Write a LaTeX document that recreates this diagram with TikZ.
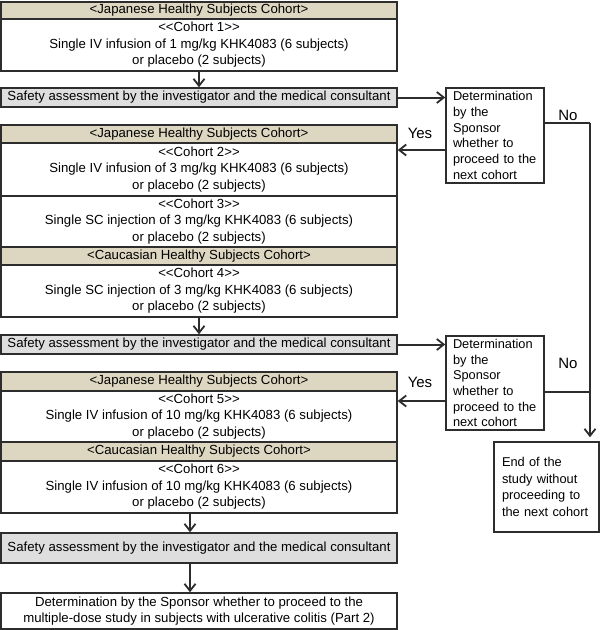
\documentclass[tikz,border=0pt]{standalone}
\usepackage{fontspec}
\setmainfont{Liberation Sans}
\usetikzlibrary{arrows.meta}
\definecolor{hdr}{RGB}{221,215,193}
\definecolor{saf}{RGB}{222,222,222}
\definecolor{ln}{RGB}{45,45,45}
\newcommand{\coh}[1]{<{}<Cohort #1>{}>}
\begin{document}
\begin{tikzpicture}[x=1pt,y=-1pt,line width=1.5pt,
  box/.style={draw=ln,minimum width=396pt,inner sep=0pt,align=center,font=\fontsize{13.2}{16.5}\selectfont},
  hdrbox/.style={box,fill=hdr},
  safbox/.style={box,fill=saf},
  side/.style={draw=ln,fill=white,inner ysep=0pt,align=left,font=\fontsize{12.8}{15.7}\selectfont},
  arr/.style={draw=ln,line width=2pt,-{Straight Barb[length=7pt,width=11pt,line width=1.8pt]}},
  lnk/.style={draw=ln,line width=2pt},
  lbl/.style={font=\fontsize{15}{18}\selectfont,inner sep=0pt}]
\fill[white] (0,0) rectangle (600,630);
\useasboundingbox (0,0) rectangle (600,630);
% group 1
\node[hdrbox,minimum height=17pt] (h1) at (199,10.5) {<Japanese Healthy Subjects Cohort>};
\node[box,minimum height=52pt] (c1) at (199,45) {\coh{1}\\Single IV infusion of 1 mg/kg KHK4083 (6 subjects)\\or placebo (2 subjects)};
\node[safbox,minimum height=19pt] (s1) at (199,97.5) {Safety assessment by the investigator and the medical consultant};
% group 2
\node[hdrbox,minimum height=18pt] (h2) at (199,134) {<Japanese Healthy Subjects Cohort>};
\node[box,minimum height=53pt] (c2) at (199,169.5) {\coh{2}\\Single IV infusion of 3 mg/kg KHK4083 (6 subjects)\\or placebo (2 subjects)};
\node[box,minimum height=51pt] (c3) at (199,221.5) {\coh{3}\\Single SC injection of 3 mg/kg KHK4083 (6 subjects)\\or placebo (2 subjects)};
\node[hdrbox,minimum height=18pt] (h3) at (199,256) {<Caucasian Healthy Subjects Cohort>};
\node[box,minimum height=52pt] (c4) at (199,291) {\coh{4}\\Single SC injection of 3 mg/kg KHK4083 (6 subjects)\\or placebo (2 subjects)};
\node[safbox,minimum height=19pt] (s2) at (199,344.5) {Safety assessment by the investigator and the medical consultant};
% group 3
\node[hdrbox,minimum height=19pt] (h4) at (199,381.5) {<Japanese Healthy Subjects Cohort>};
\node[box,minimum height=51pt] (c5) at (199,416.5) {\coh{5}\\Single IV infusion of 10 mg/kg KHK4083 (6 subjects)\\or placebo (2 subjects)};
\node[hdrbox,minimum height=19pt] (h5) at (199,451.5) {<Caucasian Healthy Subjects Cohort>};
\node[box,minimum height=52pt] (c6) at (199,487) {\coh{6}\\Single IV infusion of 10 mg/kg KHK4083 (6 subjects)\\or placebo (2 subjects)};
\node[safbox,minimum height=30pt] (s3) at (199,548) {Safety assessment by the investigator and the medical consultant};
\node[box,minimum height=36pt] (f) at (199,611) {Determination by the Sponsor whether to proceed to the\\multiple-dose study in subjects with ulcerative colitis (Part 2)};
% side boxes
\node[side,text width=84pt,inner xsep=7pt,minimum height=95pt] (d1) at (495,135.5) {Determination\\by the\\Sponsor\\whether to\\proceed to the\\next cohort};
\node[side,text width=84pt,inner xsep=7pt,minimum height=94pt] (d2) at (495,383) {Determination\\by the\\Sponsor\\whether to\\proceed to the\\next cohort};
\node[side,text width=89pt,inner xsep=8pt,minimum height=90pt,font=\fontsize{12.8}{16.7}\selectfont] (e) at (546.5,487) {End of the\\study without\\proceeding to\\the next cohort};
% coordinates
\coordinate (nc1) at (590,123);
\coordinate (nc2) at (590,392);
\coordinate (y1) at (0,150);
\coordinate (y2) at (0,401);
% vertical arrows
\draw[arr] (c1.south) -- (s1.north);
\draw[arr] (c4.south) -- (s2.north);
\draw[arr] ([xshift=-9pt]c6.south) -- ([xshift=-9pt]s3.north);
\draw[arr] ([xshift=-9pt]s3.south) -- ([xshift=-9pt]f.north);
% to determination
\draw[arr] (s1.east) -- (s1.east -| d1.west);
\draw[arr] (s2.east) -- (s2.east -| d2.west);
% yes
\draw[arr] (d1.west |- y1) -- (c2.east |- y1);
\draw[arr] (d2.west |- y2) -- (c5.east |- y2);
\node[lbl] (yes1) at (420,133) {Yes};
\node[lbl] (yes2) at (420,382) {Yes};
% no
\draw[lnk] (d1.east |- nc1) -- (nc1);
\draw[lnk] (d2.east |- nc2) -- (nc2);
\draw[arr] (nc1) -- ([yshift=4pt]e.north -| nc1);
\node[lbl] (no1) at (568,115) {No};
\node[lbl] (no2) at (568,363) {No};
\end{tikzpicture}
\end{document}
